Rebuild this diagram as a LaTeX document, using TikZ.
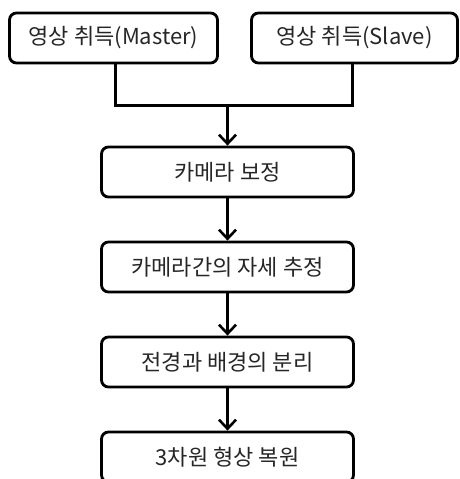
\documentclass[tikz,border=0pt]{standalone}
\usepackage{fontspec}
\setmainfont{Noto Sans CJK KR}
\usetikzlibrary{arrows.meta}
\tikzset{
	box/.style={draw,line width=2.8pt,rounded corners=7pt,minimum height=50pt,
		inner sep=0pt,font=\fontsize{22}{25}\selectfont,text=black!85},
	link/.style={line width=3.2pt},
	flow/.style={link,-{Straight Barb[length=9pt,width=17pt,line width=2.6pt]}}
}
\begin{document}
\begin{tikzpicture}[x=1pt,y=-1pt]
		\useasboundingbox (0,0) rectangle (459,479);
		\clip (0,0) rectangle (459,479);
		\node[box,minimum width=208pt] (master) at (113.5,38) {영상 취득(Master)};
		\node[box,minimum width=206pt] (slave) at (354.5,38) {영상 취득(Slave)};
		\node[box,minimum width=252pt] (calib) at (227.5,172) {카메라 보정};
		\node[box,minimum width=252pt] (pose) at (227.5,267) {카메라간의 자세 추정};
		\node[box,minimum width=252pt] (seg) at (227.5,362) {전경과 배경의 분리};
		\node[box,minimum width=252pt] (recon) at (227.5,457) {3차원 형상 복원};
		\coordinate (mleg) at (115.5,63);
		\coordinate (sleg) at (352.5,63);
		\coordinate (join) at (227.5,105.5);
		\draw[link] (mleg) |- (join) -| (sleg);
		\draw[flow] (join) -- (calib);
		\draw[flow] (calib) -- (pose);
		\draw[flow] (pose) -- (seg);
		\draw[flow] (seg) -- (recon);
	\end{tikzpicture}
\end{document}
